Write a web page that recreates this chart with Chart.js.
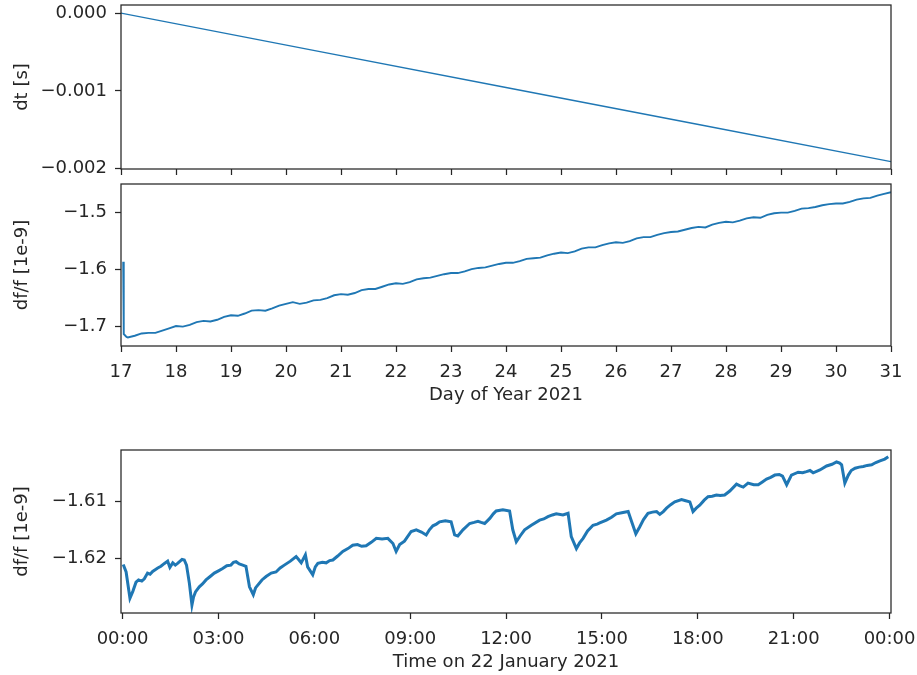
<!DOCTYPE html>
<html lang="en">
<head>
  <meta charset="UTF-8">
  <title>Clock offset and fractional frequency</title>
  <script src="https://cdn.jsdelivr.net/npm/chart.js"></script>
  <style>
    body {
      margin: 0;
      background: #fff;
      width: 917px;
      height: 675px;
      position: relative;
      overflow: hidden;
    }
    .panel {
      position: absolute;
      left: 0;
      width: 917px;
    }
    #p1 { top: 0; height: 185px; }
    #p2 { top: 175px; height: 233px; }
    #p3 { top: 430px; height: 245px; }
  </style>
</head>
<body>

<div class="panel" id="p1"><canvas id="dtChart"></canvas></div>
<div class="panel" id="p2"><canvas id="dffChart"></canvas></div>
<div class="panel" id="p3"><canvas id="dayChart"></canvas></div>

<script>
  // top panel: time offset, days of year 2021
  var dtDays = [17.0, 20.5, 24.0, 27.5, 31.0];
  var dtValues = [0.0, -0.000478, -0.000956, -0.001433, -0.00191];

  // middle panel: df/f [1e-9] over days of year
  var dffDays = [17.04, 17.05, 17.10, 17.125, 17.25, 17.375, 17.50, 17.625, 17.75, 17.875,
    18.00, 18.125, 18.25, 18.375, 18.50, 18.625, 18.75, 18.875,
    19.00, 19.125, 19.25, 19.375, 19.50, 19.625, 19.75, 19.875,
    20.00, 20.125, 20.25, 20.375, 20.50, 20.625, 20.75, 20.875,
    21.00, 21.125, 21.25, 21.375, 21.50, 21.625, 21.75, 21.875,
    22.00, 22.125, 22.25, 22.375, 22.50, 22.625, 22.75, 22.875,
    23.00, 23.125, 23.25, 23.375, 23.50, 23.625, 23.75, 23.875,
    24.00, 24.125, 24.25, 24.375, 24.50, 24.625, 24.75, 24.875,
    25.00, 25.125, 25.25, 25.375, 25.50, 25.625, 25.75, 25.875,
    26.00, 26.125, 26.25, 26.375, 26.50, 26.625, 26.75, 26.875,
    27.00, 27.125, 27.25, 27.375, 27.50, 27.625, 27.75, 27.875,
    28.00, 28.125, 28.25, 28.375, 28.50, 28.625, 28.75, 28.875,
    29.00, 29.125, 29.25, 29.375, 29.50, 29.625, 29.75, 29.875,
    30.00, 30.125, 30.25, 30.375, 30.50, 30.625, 30.75, 30.875, 31.00];
  var dffValues = [-1.586, -1.713, -1.718, -1.719, -1.716, -1.712, -1.711, -1.711, -1.707, -1.703,
    -1.699, -1.700, -1.697, -1.692, -1.690, -1.691, -1.688, -1.683,
    -1.680, -1.681, -1.677, -1.672, -1.671, -1.672, -1.668, -1.663,
    -1.660, -1.657, -1.660, -1.658, -1.654, -1.653, -1.650, -1.645,
    -1.643, -1.644, -1.641, -1.636, -1.634, -1.634, -1.630, -1.626,
    -1.624, -1.625, -1.622, -1.617, -1.615, -1.614, -1.611, -1.608,
    -1.606, -1.606, -1.603, -1.599, -1.597, -1.596, -1.593, -1.590,
    -1.588, -1.588, -1.585, -1.581, -1.580, -1.579, -1.575, -1.572,
    -1.570, -1.571, -1.568, -1.563, -1.561, -1.561, -1.557, -1.554,
    -1.552, -1.553, -1.550, -1.545, -1.543, -1.543, -1.539, -1.536,
    -1.534, -1.533, -1.530, -1.527, -1.525, -1.526, -1.521, -1.518,
    -1.516, -1.517, -1.514, -1.510, -1.508, -1.509, -1.504, -1.501,
    -1.500, -1.500, -1.497, -1.493, -1.492, -1.490, -1.487, -1.485,
    -1.484, -1.484, -1.481, -1.477, -1.475, -1.474, -1.470, -1.467, -1.464];

  // bottom panel: df/f [1e-9] over 22 January 2021, hours
  var hours = [0.02, 0.11, 0.23, 0.32, 0.42, 0.50, 0.60, 0.68, 0.78, 0.86, 0.94, 1.02, 1.10, 1.20, 1.31, 1.41,
    1.48, 1.57, 1.65, 1.72, 1.80, 1.86, 1.93, 2.00, 2.09, 2.17, 2.22, 2.28, 2.40, 2.50, 2.61, 2.74,
    2.87, 3.00, 3.13, 3.26, 3.39, 3.47, 3.55, 3.65, 3.76, 3.86, 3.97, 4.09, 4.16, 4.23, 4.36, 4.49,
    4.65, 4.80, 4.93, 5.06, 5.25, 5.43, 5.52, 5.59, 5.72, 5.79, 5.95, 6.03, 6.11, 6.25, 6.37, 6.48,
    6.58, 6.73, 6.89, 7.05, 7.20, 7.35, 7.48, 7.62, 7.78, 7.94, 8.12, 8.30, 8.46, 8.56, 8.67, 8.82,
    9.03, 9.19, 9.35, 9.50, 9.60, 9.71, 9.82, 9.92, 10.10, 10.28, 10.39, 10.49, 10.65, 10.86, 11.00, 11.12,
    11.22, 11.33, 11.49, 11.60, 11.69, 11.90, 12.11, 12.21, 12.32, 12.45, 12.58, 12.79, 13.05, 13.18, 13.31, 13.45,
    13.57, 13.78, 13.94, 14.04, 14.20, 14.30, 14.41, 14.55, 14.72, 14.85, 14.93, 15.14, 15.30, 15.45, 15.62, 15.82,
    15.93, 16.06, 16.18, 16.30, 16.44, 16.58, 16.71, 16.81, 16.92, 17.02, 17.15, 17.28, 17.49, 17.62, 17.75, 17.85,
    17.95, 18.06, 18.20, 18.32, 18.45, 18.58, 18.70, 18.84, 19.00, 19.21, 19.32, 19.42, 19.57, 19.75, 19.89, 20.02,
    20.15, 20.28, 20.41, 20.55, 20.65, 20.78, 20.93, 21.14, 21.28, 21.40, 21.51, 21.61, 21.82, 22.03, 22.20, 22.34,
    22.44, 22.50, 22.60, 22.71, 22.80, 22.92, 23.05, 23.18, 23.30, 23.44, 23.57, 23.70, 23.85, 23.96];
  var hourValues = [-1.6211, -1.6224, -1.6270, -1.6258, -1.6242, -1.6238, -1.6240, -1.6236, -1.6226, -1.6228, -1.6223, -1.6220, -1.6217, -1.6214, -1.6209, -1.6205,
    -1.6216, -1.6208, -1.6212, -1.6209, -1.6205, -1.6202, -1.6203, -1.6212, -1.6244, -1.6282, -1.6268, -1.6259, -1.6250, -1.6245, -1.6238, -1.6232,
    -1.6226, -1.6222, -1.6218, -1.6213, -1.6212, -1.6207, -1.6206, -1.6210, -1.6212, -1.6214, -1.6250, -1.6264, -1.6252, -1.6247, -1.6238, -1.6232,
    -1.6226, -1.6224, -1.6217, -1.6212, -1.6205, -1.6197, -1.6203, -1.6208, -1.6194, -1.6215, -1.6229, -1.6215, -1.6209, -1.6207, -1.6208, -1.6204,
    -1.6203, -1.6196, -1.6188, -1.6183, -1.6177, -1.6176, -1.6179, -1.6178, -1.6172, -1.6165, -1.6166, -1.6165, -1.6174, -1.6188, -1.6176, -1.6170,
    -1.6153, -1.6150, -1.6154, -1.6159, -1.6150, -1.6143, -1.6140, -1.6136, -1.6134, -1.6136, -1.6159, -1.6161, -1.6150, -1.6139, -1.6137, -1.6135,
    -1.6137, -1.6139, -1.6130, -1.6122, -1.6117, -1.6115, -1.6117, -1.6150, -1.6171, -1.6160, -1.6150, -1.6142, -1.6133, -1.6131, -1.6127, -1.6124,
    -1.6122, -1.6124, -1.6121, -1.6162, -1.6183, -1.6173, -1.6165, -1.6152, -1.6142, -1.6140, -1.6138, -1.6133, -1.6128, -1.6122, -1.6120, -1.6118,
    -1.6136, -1.6157, -1.6145, -1.6132, -1.6121, -1.6119, -1.6118, -1.6123, -1.6118, -1.6112, -1.6106, -1.6101, -1.6097, -1.6099, -1.6101, -1.6118,
    -1.6112, -1.6107, -1.6098, -1.6092, -1.6091, -1.6089, -1.6090, -1.6089, -1.6082, -1.6070, -1.6073, -1.6075, -1.6068, -1.6071, -1.6071, -1.6066,
    -1.6061, -1.6058, -1.6054, -1.6053, -1.6056, -1.6071, -1.6054, -1.6049, -1.6050, -1.6048, -1.6046, -1.6050, -1.6045, -1.6038, -1.6035, -1.6031,
    -1.6033, -1.6036, -1.6068, -1.6054, -1.6046, -1.6042, -1.6040, -1.6039, -1.6037, -1.6036, -1.6032, -1.6029, -1.6026, -1.6022];

  // ticks
  var dayTicks = [17, 18, 19, 20, 21, 22, 23, 24, 25, 26, 27, 28, 29, 30, 31];
  var dtTicks = [0, -0.001, -0.002];
  var dtTickLabels = ['0.000', '\u22120.001', '\u22120.002'];
  var dffTicks = [-1.5, -1.6, -1.7];
  var dffTickLabels = ['\u22121.5', '\u22121.6', '\u22121.7'];
  var hourTicks = [0, 3, 6, 9, 12, 15, 18, 21, 24];
  var hourTickLabels = ['00:00', '03:00', '06:00', '09:00', '12:00', '15:00', '18:00', '21:00', '00:00'];
  var dayChartTicks = [-1.61, -1.62];
  var dayChartTickLabels = ['\u22121.61', '\u22121.62'];

  var ink = '#262626';
  var blue = '#1f77b4';
  Chart.defaults.font.family = "'DejaVu Sans', sans-serif";
  Chart.defaults.font.size = 18;
  Chart.defaults.color = ink;

  var frame = {
    id: 'frame',
    afterDraw: function (c) {
      var a = c.chartArea, ctx = c.ctx;
      ctx.save();
      ctx.strokeStyle = ink;
      ctx.lineWidth = 1.25;
      ctx.strokeRect(a.left, a.top, a.right - a.left, a.bottom - a.top);
      ctx.restore();
    }
  };

  function pairs(xs, ys) {
    return xs.map(function (x, i) { return { x: x, y: ys[i] }; });
  }

  function fixed(values) {
    return function (s) { s.ticks = values.map(function (v) { return { value: v }; }); };
  }

  function xAxis(min, max, tickValues, labels, showLabels, height, title) {
    return {
      type: 'linear', min: min, max: max,
      afterBuildTicks: fixed(tickValues),
      afterFit: function (s) { s.height = height; s.paddingLeft = 0; s.paddingRight = 0; },
      grid: { drawOnChartArea: false, drawTicks: true, tickLength: 6, tickWidth: 1.25, tickColor: ink },
      border: { display: false },
      ticks: {
        display: showLabels, padding: 10, maxRotation: 0, autoSkip: false,
        callback: function (v, i) { return labels ? labels[i] : String(v); }
      },
      title: { display: !!title, text: title || '', padding: { top: 0, bottom: 2 } }
    };
  }

  function yAxis(min, max, tickValues, labels, title) {
    return {
      min: min, max: max,
      afterBuildTicks: fixed(tickValues),
      afterFit: function (s) { s.width = 121; s.paddingTop = 0; s.paddingBottom = 0; },
      grid: { drawOnChartArea: false, drawTicks: true, tickLength: 6, tickWidth: 1.25, tickColor: ink },
      border: { display: false },
      ticks: { padding: 8, autoSkip: false, callback: function (v, i) { return labels[i]; } },
      title: { display: true, text: title, padding: { top: 12, bottom: 0 } }
    };
  }

  function panel(id, data, width, xs, ys, padTop) {
    return new Chart(document.getElementById(id), {
      type: 'line',
      data: {
        datasets: [{
          data: data, borderColor: blue, borderWidth: width,
          pointRadius: 0, tension: 0, fill: false, borderJoinStyle: 'miter'
        }]
      },
      options: {
        responsive: true, maintainAspectRatio: false, animation: false,
        layout: { padding: { top: padTop, right: 26, left: 0, bottom: 0 } },
        plugins: { legend: { display: false }, tooltip: { enabled: false } },
        scales: { x: xs, y: ys }
      },
      plugins: [frame]
    });
  }

  panel('dtChart', pairs(dtDays, dtValues), 1.4,
    xAxis(17, 31, dayTicks, null, false, 16, null),
    yAxis(-0.002005, 0.000105, dtTicks, dtTickLabels, 'dt [s]'), 5);

  panel('dffChart', pairs(dffDays, dffValues), 1.9,
    xAxis(17, 31, dayTicks, null, true, 62, 'Day of Year 2021'),
    yAxis(-1.734, -1.4497, dffTicks, dffTickLabels, 'df/f [1e-9]'), 9);

  var bottom = panel('dayChart', pairs(hours, hourValues), 3,
    xAxis(-0.05, 24.045, hourTicks, hourTickLabels, true, 62, 'Time on 22 January 2021'),
    yAxis(-1.6296, -1.6010, dayChartTicks, dayChartTickLabels, 'df/f [1e-9]'), 20);
</script>

</body>
</html>
